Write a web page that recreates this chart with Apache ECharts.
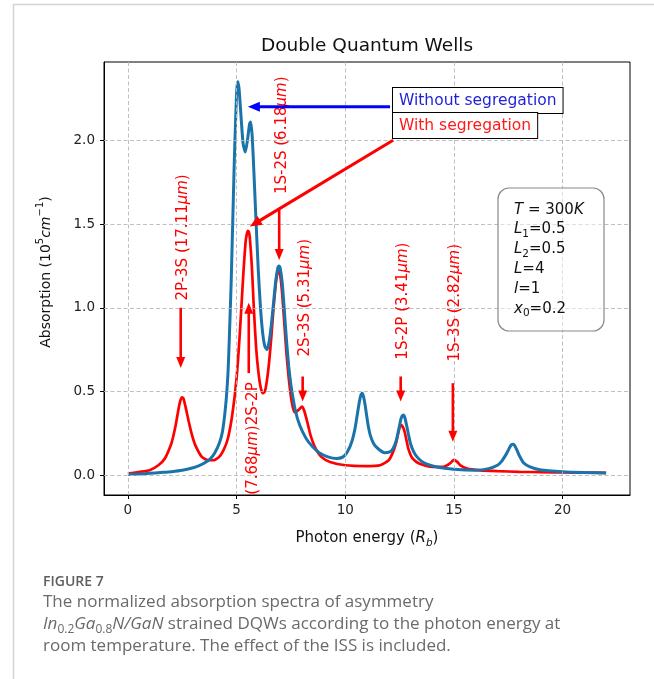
<!DOCTYPE html>
<html><head><meta charset="utf-8">
<script src="https://cdn.jsdelivr.net/npm/echarts@6/dist/echarts.min.js"></script>
<style>html,body{margin:0;padding:0;background:#fff}#c{width:654px;height:679px}</style>
</head><body><div id="c"></div>
<script>
// ---------- data ----------
const xTicks = [0, 5, 10, 15, 20];
const yTicks = [0.0, 0.5, 1.0, 1.5, 2.0];

// Without segregation (blue)
const blueE = [0,0.5,1,1.5,2,2.5,3,3.25,3.5,3.8,4.0,4.2,4.35,4.5,4.6,4.65,4.7,4.75,4.8,4.85,4.9,4.95,5.0,5.03,5.06,5.12,5.2,5.3,5.4,5.5,5.6,5.65,5.72,5.8,5.9,6.0,6.1,6.2,6.3,6.4,6.5,6.6,6.7,6.8,6.9,6.95,7.0,7.1,7.2,7.3,7.4,7.5,7.7,7.9,8.2,8.5,8.8,9.2,9.6,9.9,10.1,10.3,10.45,10.55,10.65,10.72,10.78,10.84,10.9,10.97,11.05,11.15,11.3,11.5,11.8,12.05,12.2,12.35,12.47,12.56,12.62,12.68,12.74,12.82,12.9,13.0,13.15,13.3,13.5,13.7,14.2,15.0,16.0,16.6,17.0,17.2,17.4,17.5,17.6,17.7,17.78,17.9,18.0,18.2,18.5,19.0,20,21,22];
const blueA = [0.005,0.008,0.012,0.017,0.022,0.03,0.045,0.056,0.072,0.1,0.135,0.19,0.26,0.42,0.6,0.76,0.95,1.15,1.4,1.65,1.9,2.1,2.28,2.33,2.35,2.3,2.15,1.98,1.93,2.0,2.1,2.11,2.02,1.8,1.5,1.22,1.0,0.85,0.77,0.75,0.8,0.9,1.03,1.16,1.24,1.25,1.24,1.15,0.98,0.8,0.65,0.54,0.39,0.3,0.22,0.17,0.135,0.11,0.1,0.11,0.14,0.2,0.28,0.36,0.44,0.48,0.49,0.47,0.43,0.37,0.3,0.24,0.19,0.16,0.135,0.14,0.16,0.21,0.28,0.335,0.355,0.36,0.345,0.3,0.25,0.19,0.14,0.11,0.085,0.07,0.05,0.036,0.03,0.04,0.06,0.085,0.125,0.15,0.175,0.185,0.18,0.15,0.12,0.075,0.05,0.032,0.022,0.017,0.014];

// With segregation (red)
const redE = [0,0.5,1,1.4,1.7,2.0,2.1,2.2,2.28,2.35,2.4,2.48,2.55,2.65,2.8,2.95,3.1,3.4,3.7,3.95,4.2,4.4,4.6,4.8,5.0,5.15,5.3,5.36,5.42,5.47,5.52,5.56,5.6,5.65,5.7,5.75,5.8,5.9,6.0,6.1,6.2,6.3,6.4,6.5,6.6,6.7,6.8,6.85,6.93,7.0,7.05,7.1,7.2,7.3,7.4,7.5,7.6,7.7,7.85,8.0,8.1,8.25,8.4,8.6,8.9,9.3,10,11,11.6,12.0,12.2,12.35,12.45,12.5,12.58,12.68,12.75,12.9,13.1,13.4,14.0,14.5,14.75,14.85,15.0,15.15,15.3,15.6,16.2,17,18,19,20,21,22];
const redA = [0.01,0.02,0.03,0.06,0.1,0.19,0.24,0.3,0.36,0.41,0.44,0.465,0.46,0.41,0.32,0.24,0.18,0.11,0.09,0.09,0.11,0.15,0.22,0.36,0.58,0.85,1.18,1.3,1.4,1.44,1.46,1.455,1.43,1.35,1.25,1.12,0.98,0.76,0.62,0.53,0.49,0.5,0.57,0.68,0.83,1.0,1.14,1.19,1.225,1.2,1.15,1.08,0.9,0.72,0.58,0.47,0.4,0.375,0.39,0.41,0.39,0.32,0.24,0.17,0.11,0.08,0.06,0.055,0.06,0.09,0.14,0.2,0.26,0.285,0.3,0.28,0.25,0.16,0.1,0.07,0.05,0.05,0.065,0.075,0.092,0.08,0.06,0.04,0.03,0.025,0.021,0.019,0.017,0.016,0.015];

// transition labels (text, x, y of text centre) and their arrows
const transLabels = ['2P-3S (17.11{m|μm})', '1S-2S (6.18{m|μm})', '(7.68{m|μm})2S-2P', '2S-3S (5.31{m|μm})', '1S-2P (3.41{m|μm})', '1S-3S (2.82{m|μm})'];
const transLabelX = [2.52, 7.08, 5.75, 8.14, 12.64, 15.05];
const transLabelY = [1.42, 2.03, 0.22, 1.06, 1.04, 1.03];
const arrowFromX = [2.43, 6.96, 5.56, 8.04, 12.55, 14.95];
const arrowFromY = [1.0, 1.585, 0.61, 0.59, 0.59, 0.55];
const arrowToX   = [2.43, 6.96, 5.56, 8.04, 12.55, 14.95];
const arrowToY   = [0.64, 1.285, 1.03, 0.44, 0.44, 0.20];

const xMin = -1.1, xMax = 23.1, yMin = -0.1175, yMax = 2.4675;
const FONT = 'DejaVu Sans';

const chart = echarts.init(document.getElementById('c'), null, {renderer: 'canvas'});
const gridLineSeries = {
  type: 'line', data: [], z: 1, silent: true,
  markLine: {
    silent: true, symbol: ['none', 'none'], label: {show: false}, animation: false,
    lineStyle: {color: '#b8b8b8', type: [4, 2.5], width: 0.9},
    emphasis: {disabled: true},
    data: xTicks.map(v => ({xAxis: v})).concat(yTicks.map(v => ({yAxis: v})))
  }
};
chart.setOption({
  animation: false,
  backgroundColor: '#fff',
  grid: {left: 104, right: 24, top: 62, bottom: 184, show: true, borderColor: '#000', borderWidth: 1, backgroundColor: 'transparent'},
  xAxis: {
    type: 'value', min: xMin, max: xMax,
    axisLine: {show: true, onZero: false, lineStyle: {color: '#000', width: 1}},
    axisTick: {show: true, length: 4, customValues: xTicks, lineStyle: {color: '#000'}},
    axisLabel: {customValues: xTicks, fontFamily: FONT, fontSize: 13.5, color: '#222', margin: 8, formatter: v => String(v)},
    splitLine: {show: false}
  },
  yAxis: {
    type: 'value', min: yMin, max: yMax,
    axisLine: {show: true, onZero: false, lineStyle: {color: '#000', width: 1}},
    axisTick: {show: true, length: 4, customValues: yTicks, lineStyle: {color: '#000'}},
    axisLabel: {customValues: yTicks, fontFamily: FONT, fontSize: 13.5, color: '#222', margin: 9, formatter: v => v.toFixed(1)},
    splitLine: {show: false}
  },
  series: [
    gridLineSeries,
    {type: 'line', name: 'With segregation', data: redE.map((e, i) => [e, redA[i]]), symbol: 'none', z: 3, smooth: 0.2,
     lineStyle: {color: '#ff0000', width: 2.7}, emphasis: {disabled: true}},
    {type: 'line', name: 'Without segregation', data: blueE.map((e, i) => [e, blueA[i]]), symbol: 'none', z: 4, smooth: 0.2,
     lineStyle: {color: '#1a74ab', width: 3}, emphasis: {disabled: true}}
  ]
});

const px = (x, y) => chart.convertToPixel({gridIndex: 0}, [x, y]);
function arrow(p1, p2, color, lw, hw, hl) {
  const dx = p2[0] - p1[0], dy = p2[1] - p1[1], L = Math.hypot(dx, dy);
  const ux = dx / L, uy = dy / L, bx = p2[0] - ux * hl, by = p2[1] - uy * hl, nx = -uy, ny = ux;
  return [
    {type: 'line', z: 20, shape: {x1: p1[0], y1: p1[1], x2: bx + ux, y2: by + uy}, style: {stroke: color, lineWidth: lw}},
    {type: 'polygon', z: 20, shape: {points: [[p2[0], p2[1]], [bx + nx * hw / 2, by + ny * hw / 2], [bx - nx * hw / 2, by - ny * hw / 2]]}, style: {fill: color}}
  ];
}
const g = [];
// page frame
g.push({type: 'line', z: 0, shape: {x1: 13, y1: 4.5, x2: 654, y2: 4.5}, style: {stroke: '#d4d4d4', lineWidth: 1.5}});
g.push({type: 'line', z: 0, shape: {x1: 13.5, y1: 4, x2: 13.5, y2: 679}, style: {stroke: '#d4d4d4', lineWidth: 1.5}});
// title & axis names
g.push({type: 'text', z: 20, x: 367, y: 46, style: {text: 'Double Quantum Wells', fontFamily: FONT, fontSize: 18.5, fill: '#111', align: 'center', verticalAlign: 'middle'}});
g.push({type: 'text', z: 20, x: 367, y: 538, style: {text: 'Photon energy ({i|R}{s|b})', fontFamily: FONT, fontSize: 15, fill: '#111', align: 'center', verticalAlign: 'middle',
  rich: {i: {fontFamily: FONT, fontSize: 15, fontStyle: 'italic', fill: '#111'}, s: {fontFamily: FONT, fontSize: 10.5, fontStyle: 'italic', fill: '#111', verticalAlign: 'bottom', lineHeight: 22}}}});
g.push({type: 'text', z: 20, x: 46, y: 272, rotation: Math.PI / 2, style: {text: 'Absorption (10{p|5}{i|cm}{p|−1})', fontFamily: FONT, fontSize: 14, fill: '#111', align: 'center', verticalAlign: 'middle',
  rich: {i: {fontFamily: FONT, fontSize: 14, fontStyle: 'italic', fill: '#111'}, p: {fontFamily: FONT, fontSize: 10, fill: '#111', verticalAlign: 'top', lineHeight: 21}}}});
// transition labels + arrows
transLabels.forEach((t, k) => {
  const p = px(transLabelX[k], transLabelY[k]);
  g.push({type: 'text', z: 20, x: p[0], y: p[1], rotation: Math.PI / 2, style: {text: t, fontFamily: FONT, fontSize: 15, fill: '#ff0000', align: 'center', verticalAlign: 'middle',
    rich: {m: {fontFamily: FONT, fontSize: 15, fontStyle: 'italic', fill: '#ff0000'}}}});
  g.push(...arrow(px(arrowFromX[k], arrowFromY[k]), px(arrowToX[k], arrowToY[k]), '#ff0000', 2.6, 9, 11));
});
// legend-like annotation boxes with arrows
g.push(...arrow(px(12.06, 2.2), px(5.52, 2.2), '#0000ff', 3, 10, 12));
g.push(...arrow(px(12.2, 2.0), px(5.61, 1.485), '#ff0000', 3, 10, 12));
g.push({type: 'text', z: 30, x: 393, y: 88, style: {text: 'Without segregation', fontFamily: FONT, fontSize: 15.5, fill: '#1f1fd6', backgroundColor: '#fff', borderColor: '#000', borderWidth: 1, padding: [5, 6, 4, 6], align: 'left', verticalAlign: 'top'}});
g.push({type: 'text', z: 31, x: 393, y: 113, style: {text: 'With segregation', fontFamily: FONT, fontSize: 15.5, fill: '#ff1a1a', backgroundColor: '#fff', borderColor: '#000', borderWidth: 1, padding: [5, 6, 4, 6], align: 'left', verticalAlign: 'top'}});
// parameter box
g.push({type: 'rect', z: 25, shape: {x: 498, y: 188, width: 106, height: 143, r: 11}, style: {fill: 'rgba(255,255,255,0.5)', stroke: '#8a8a8a', lineWidth: 1.2}});
const ri = {fontFamily: FONT, fontSize: 15, fontStyle: 'italic', fill: '#111'};
const rs = {fontFamily: FONT, fontSize: 10.5, fill: '#111', verticalAlign: 'bottom', lineHeight: 20};
g.push({type: 'text', z: 26, x: 514, y: 200, style: {
  text: '{i|T} = 300{i|K}\n{i|L}{s|1}=0.5\n{i|L}{s|2}=0.5\n{i|L}=4\n{i|l}=1\n{i|x}{s|0}=0.2',
  fontFamily: FONT, fontSize: 15, fill: '#111', lineHeight: 19.6, align: 'left', verticalAlign: 'top', rich: {i: ri, s: rs}}});
// caption
const CF = 'Open Sans';
g.push({type: 'text', z: 20, x: 43, y: 582, style: {text: 'FIGURE 7', fontFamily: CF, fontWeight: 600, fontSize: 14, fill: '#5e5e5e', verticalAlign: 'middle'}});
g.push({type: 'text', z: 20, x: 43, y: 602, style: {text: 'The normalized absorption spectra of asymmetry', fontFamily: CF, fontSize: 17, fill: '#6a6a6a', verticalAlign: 'middle'}});
const ci = {fontFamily: CF, fontSize: 17, fontStyle: 'italic', fill: '#6a6a6a'};
const cs = {fontFamily: CF, fontSize: 12, fill: '#6a6a6a', verticalAlign: 'bottom', lineHeight: 24};
g.push({type: 'text', z: 20, x: 43, y: 624, style: {text: '{i|In}{s|0.2}{i|Ga}{s|0.8}{i|N/GaN} strained DQWs according to the photon energy at', fontFamily: CF, fontSize: 17, fill: '#6a6a6a', verticalAlign: 'middle', rich: {i: ci, s: cs}}});
g.push({type: 'text', z: 20, x: 43, y: 646, style: {text: 'room temperature. The effect of the ISS is included.', fontFamily: CF, fontSize: 17, fill: '#6a6a6a', verticalAlign: 'middle'}});
chart.setOption({graphic: {elements: g}});
</script></body></html>
